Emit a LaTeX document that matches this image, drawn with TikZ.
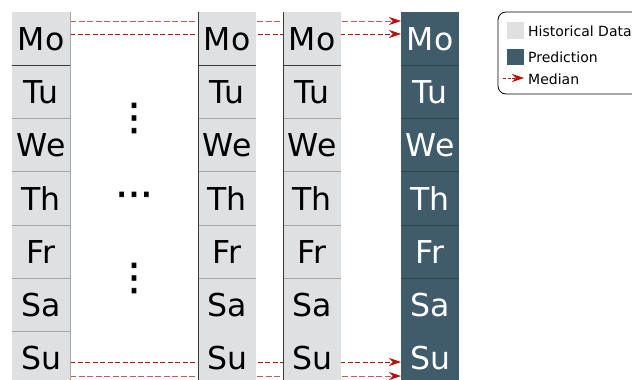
\documentclass[tikz,border=0pt]{standalone}
\usepackage{fontspec}
\setmainfont{DejaVu Sans}
\newfontfamily\dotfont[FakeBold=2]{DejaVu Sans}
\usetikzlibrary{arrows.meta}
\definecolor{histc}{HTML}{DFE0E2}
\definecolor{predc}{HTML}{405B6A}
\definecolor{predline}{HTML}{2E4350}
\definecolor{medc}{HTML}{B81010}
\definecolor{sepdark}{HTML}{3A3A3A}
\definecolor{seplight}{HTML}{A6A6A6}
\tikzset{
  cell/.style={anchor=north west, minimum width=58, minimum height=53.3, inner sep=0,
    text height=22.6pt, text depth=0pt, font=\fontsize{31.5}{31.5}\selectfont},
  histcell/.style={cell, fill=histc, text=black},
  predcell/.style={cell, fill=predc, text=white},
  medline/.style={draw=medc, line width=0.9pt, dash pattern=on 5pt off 2.5pt},
  medlinelight/.style={medline, draw=medc!70, dash pattern=on 6pt off 2.5pt},
  medarrow/.style={-{Stealth[length=12pt,width=8pt,color=medc]}},
  dotstext/.style={font=\dotfont\fontsize{37}{37}\selectfont, inner sep=0},
  legtext/.style={anchor=west, inner sep=0, font=\fontsize{14}{15}\selectfont},
  swatch/.style={anchor=north west, minimum width=16.5, minimum height=16.5, inner sep=0},
}
\begin{document}
\begin{tikzpicture}[x=1pt,y=-1pt]
\useasboundingbox (0,0) rectangle (632,380);
\clip (0,0) rectangle (632,380);
% median lines (behind columns)
\coordinate (s1) at (70,21);   \coordinate (e1) at (401,21);
\coordinate (s2) at (70,34);   \coordinate (e2) at (401,34);
\coordinate (s3) at (70,362);  \coordinate (e3) at (401,362);
\coordinate (s4) at (70,376);  \coordinate (e4) at (401,376);
\draw[medlinelight, medarrow] (s1) -- (e1);
\draw[medline, medarrow] (s2) -- (e2);
\draw[medline, medarrow] (s3) -- (e3);
\draw[medlinelight, medarrow] (s4) -- (e4);
% columns
\foreach \col/\x/\st in {a/12/histcell, b/198/histcell, c/283/histcell, d/401/predcell} {
  \foreach \d [count=\i from 0] in {Mo,Tu,We,Th,Fr,Sa,Su} {
    \node[\st] (\col\i) at (\x, 12+53.3*\i) {\d};
  }
}
% row separators
\draw[sepdark, line width=0.9pt] (a1.north west) -- (a1.north east);
\foreach \i in {2,...,6} {
  \draw[seplight, line width=0.9pt] (a\i.north west) -- (a\i.north east);
}
\foreach \col in {b,c} {
  \draw[sepdark, line width=0.9pt] (\col1.north west) -- (\col1.north east);
  \foreach \i in {2,...,5} {
    \draw[seplight, line width=0.9pt] (\col\i.north west) -- (\col\i.north east);
  }
}
\foreach \i in {1,...,5} {
  \draw[predline, line width=0.9pt] (d\i.north west) -- (d\i.north east);
}
% column edges
\draw[seplight, line width=0.8pt] (a0.north east) -- (a6.south east);
\draw[sepdark, line width=1pt] (b0.north west) -- (b6.south west);
\draw[sepdark, line width=1pt] (c0.north west) -- (c6.south west);
% ellipsis dots
\node[dotstext] (v1) at (134,118) {⋮};
\node[dotstext] (h1) at (134,199) {⋯};
\node[dotstext] (v2) at (134,278) {⋮};
% legend
\draw[black, line width=0.8pt, rounded corners=8pt] (498,12) rectangle (645,94);
\node[swatch, fill=histc] (sw1) at (507,22) {};
\node[swatch, fill=predc] (sw2) at (507,48.5) {};
\node[legtext] (t1) at (528,31) {Historical Data};
\node[legtext] (t2) at (528,57) {Prediction};
\coordinate (m1) at (503,78);
\coordinate (m2) at (524,78);
\draw[medline, dash pattern=on 3pt off 1.5pt, -{Stealth[length=12pt,width=8pt,color=medc]}] (m1) -- (m2);
\node[legtext] (t3) at (528,79) {Median};
\end{tikzpicture}
\end{document}
